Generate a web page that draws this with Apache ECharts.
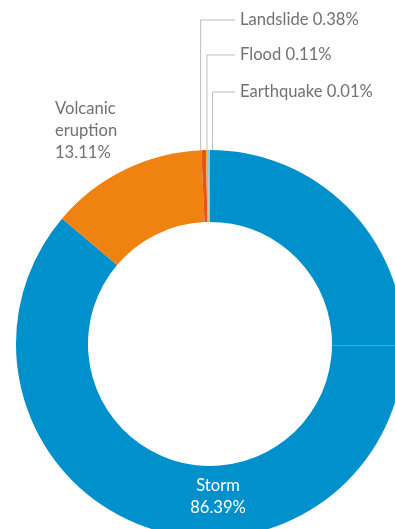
<!DOCTYPE html>
<html>
<head>
<meta charset="utf-8">
<script src="https://cdn.jsdelivr.net/npm/echarts@6/dist/echarts.min.js"></script>
<style>
html,body{margin:0;padding:0;background:#fff;}
#c{width:395px;height:529px;}
</style>
</head>
<body>
<div id="c"></div>
<script>
var categories = ['Storm', 'Volcanic eruption', 'Landslide', 'Flood', 'Earthquake'];
var shares = [86.39, 13.11, 0.38, 0.11, 0.01];
var colors = ['#0090cc', '#f0820f', '#e4541c', '#f6b12e', '#82c9ea'];

var CX = 210, CY = 344, R0 = 122, R1 = 194;

var chart = echarts.init(document.getElementById('c'), null, {renderer: 'canvas'});

var data = categories.map(function (name, i) {
  var item = {name: name, value: shares[i], itemStyle: {color: colors[i]}};
  if (i === 0) {
    item.label = {position: 'inside', color: '#ffffff', align: 'center'};
    item.labelLine = {show: false};
  } else if (i === 1) {
    item.label = {position: 'outside', align: 'left'};
    item.labelLine = {show: false};
  } else {
    item.label = {position: 'outside', align: 'left'};
    item.labelLine = {show: true};
  }
  return item;
});

var topRows = {2: 20, 3: 55, 4: 92};
var lineShift = {2: -3, 3: 0, 4: 3.5};

chart.setOption({
  animation: false,
  graphic: [{
    type: 'line',
    z: 100,
    silent: true,
    shape: {x1: CX + R0, y1: CY + 1.5, x2: CX + R1 + 20, y2: CY + 1.5},
    style: {stroke: '#45abd9', lineWidth: 1}
  }],
  series: [{
    type: 'pie',
    center: [CX, CY],
    radius: [R0, R1],
    startAngle: 90,
    clockwise: true,
    minAngle: 0.6,
    avoidLabelOverlap: false,
    data: data,
    label: {
      show: true,
      fontFamily: 'Lato',
      fontSize: 16.6,
      lineHeight: 22,
      color: '#717171',
      formatter: function (p) {
        var v = p.value.toFixed(2) + '%';
        if (p.dataIndex === 0) return p.name + '\n' + v;
        if (p.dataIndex === 1) return p.name.replace(' ', '\n') + '\n' + v;
        return p.name + ' ' + v;
      }
    },
    labelLine: {
      show: true,
      lineStyle: {color: '#bdbdbd', width: 1}
    },
    emphasis: {disabled: true},
    labelLayout: function (params) {
      var i = params.dataIndex;
      if (i === 0) {
        return {x: 218, y: 497, align: 'center', verticalAlign: 'middle'};
      }
      if (i === 1) {
        return {x: 55, y: 131, align: 'left', verticalAlign: 'middle'};
      }
      var pts = params.labelLinePoints;
      var ax = pts ? pts[0][0] + lineShift[i] : CX;
      var ay = pts ? pts[0][1] : CY - R1;
      var ly = topRows[i];
      return {
        x: 240,
        y: ly,
        align: 'left',
        verticalAlign: 'middle',
        labelLinePoints: [[ax, ay], [ax, ly], [235, ly]]
      };
    }
  }]
});
</script>
</body>
</html>
